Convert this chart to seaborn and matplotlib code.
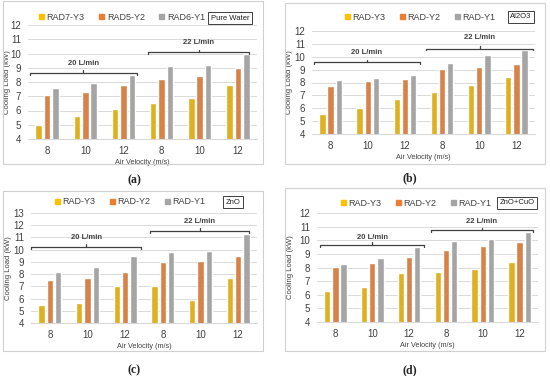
import numpy as np
import pandas as pd
import matplotlib
matplotlib.use("Agg")
import matplotlib.pyplot as plt
import seaborn as sns
from matplotlib.patches import Rectangle

# x axis: three air velocities at 20 L/min then again at 22 L/min
velocity = ["8", "10", "12", "8", "10", "12"]
groups = ["20-8", "20-10", "20-12", "22-8", "22-10", "22-12"]

# (a) pure water
a_series = ["RAD7-Y3", "RAD5-Y2", "RAD6-Y1"]
a_y3 = [5.0, 5.6, 6.1, 6.5, 6.9, 7.8]
a_y2 = [7.1, 7.3, 7.8, 8.2, 8.45, 9.0]
a_y1 = [7.55, 7.9, 8.5, 9.1, 9.2, 10.0]

# (b) Al2O3
b_series = ["RAD-Y3", "RAD-Y2", "RAD-Y1"]
b_y3 = [5.55, 6.0, 6.7, 7.3, 7.8, 8.4]
b_y2 = [7.75, 8.15, 8.25, 9.05, 9.2, 9.45]
b_y1 = [8.2, 8.35, 8.6, 9.5, 10.1, 10.5]

# (c) ZnO
c_y3 = [5.45, 5.65, 7.0, 7.0, 5.85, 7.7]
c_y2 = [7.55, 7.7, 8.2, 9.0, 9.1, 9.5]
c_y1 = [8.2, 8.6, 9.45, 9.8, 9.9, 11.3]

# (d) ZnO+CuO
d_y3 = [6.25, 6.6, 7.6, 7.65, 7.9, 8.4]
d_y2 = [8.05, 8.3, 8.75, 9.3, 9.6, 9.9]
d_y1 = [8.25, 8.7, 9.5, 9.95, 10.1, 10.6]

colors = ["#FFC000", "#ED7D31", "#A5A5A5"]

sns.set_style("white")
plt.rcParams["font.family"] = ["Liberation Sans", "DejaVu Sans"]

W, H = 550, 376
fig = plt.figure(figsize=(5.5, 3.76), dpi=100)


def px(x0, y0, x1, y1):
    return [x0 / W, 1 - y1 / H, (x1 - x0) / W, (y1 - y0) / H]


panels = [
    dict(vals=[a_y3, a_y2, a_y1], names=a_series, tag="Pure Water", label="(a)",
         ax=(28, 25, 257, 139), box=(3, 1, 263, 164), ylim=12, ylab=11,
         leg=(122, 17), tagbox=(230, 18), lab=(134, 180),
         b20=(-0.45, 2.35, 8.65, 9.3), b22=(2.65, 5.3, 10.08, 10.76)),
    dict(vals=[b_y3, b_y2, b_y1], names=b_series, tag="Al2O3", label="(b)",
         ax=(312, 31, 535, 134), box=(285, 3, 545, 164), ylim=12, ylab=293,
         leg=(420, 17), tagbox=(521, 17), lab=(410, 178),
         b20=(-0.45, 2.41, 9.6, 10.33), b22=(2.57, 5.45, 10.64, 11.46)),
    dict(vals=[c_y3, c_y2, c_y1], names=b_series, tag="ZnO", label="(c)",
         ax=(31, 213, 257, 323), box=(3, 191, 263, 351), ylim=13, ylab=12,
         leg=(130, 202), tagbox=(233, 202), lab=(134, 370),
         b20=(-0.5, 2.43, 10.25, 11.0), b22=(2.66, 5.3, 11.56, 12.3)),
    dict(vals=[d_y3, d_y2, d_y1], names=b_series, tag="ZnO+CuO", label="(d)",
         ax=(317, 213, 538, 322), box=(285, 188, 545, 351), ylim=12, ylab=294,
         leg=(416, 203), tagbox=(517, 203), lab=(410, 370),
         b20=(-0.41, 2.41, 9.68, 10.2), b22=(2.59, 5.36, 10.73, 11.4)),
]

for p in panels:
    bx = p["box"]
    fig.patches.append(Rectangle((bx[0] / W, 1 - bx[3] / H), (bx[2] - bx[0]) / W,
                                 (bx[3] - bx[1]) / H, transform=fig.transFigure,
                                 fill=False, edgecolor="#D0D0D0", linewidth=0.8))

    df = pd.DataFrame({
        "group": groups * 3,
        "series": np.repeat(p["names"], 6),
        "load": p["vals"][0] + p["vals"][1] + p["vals"][2],
    })
    ax = fig.add_axes(px(*p["ax"]))
    sns.barplot(data=df, x="group", y="load", hue="series", order=groups,
                hue_order=p["names"], palette=colors, width=0.66, gap=0.22,
                ax=ax, legend=False)
    ax.set_ylim(4, p["ylim"])
    ax.set_xlim(-0.5, 5.5)
    ax.set_yticks(range(4, p["ylim"] + 1))
    ax.yaxis.grid(True, color="#D9D9D9", linewidth=0.7)
    ax.set_axisbelow(True)
    for s in ["top", "right", "left"]:
        ax.spines[s].set_visible(False)
    ax.spines["bottom"].set_color("#D9D9D9")
    ax.set_xticks(range(6))
    ax.set_xticklabels(velocity)
    ax.tick_params(axis="both", labelsize=7, length=0, pad=5, colors="#404040")
    ax.set_ylabel("Cooling Load (kW)", fontsize=5.5, color="#404040")
    x0, x1 = p["ax"][0], p["ax"][2]
    ax.yaxis.set_label_coords((p["ylab"] - x0) / (x1 - x0), 0.5)
    ax.set_xlabel("Air Velocity (m/s)", fontsize=5.2, color="#404040", labelpad=2)

    # flow-rate brackets
    for b0, b1, yb, yt, txt in [(*p["b20"], "20 L/min"), (*p["b22"], "22 L/min")]:
        d = 0.14 * (p["ylim"] - 4) / 8
        ax.plot([b0, b0, b1, b1], [yb - d, yb, yb, yb - d], color="#404040", lw=0.9,
                clip_on=False)
        xm = (b0 + b1) / 2
        ax.plot([xm, xm], [yb, yb + d * 1.2], color="#404040", lw=0.9, clip_on=False)
        ax.text(xm, yt, txt, ha="center", va="center", fontsize=5.5,
                fontweight="bold", color="#404040")

    handles = [Rectangle((0, 0), 1, 1, color=c) for c in colors]
    lx, ly = p["leg"]
    fig.legend(handles, p["names"], loc="center", bbox_to_anchor=(lx / W, 1 - ly / H),
               ncol=3, frameon=False, fontsize=6.5, handlelength=0.55, handleheight=0.55,
               handletextpad=0.3, columnspacing=1.6, labelcolor="#404040")

    tx, ty = p["tagbox"]
    fig.text(tx / W, 1 - ty / H, p["tag"], ha="center", va="center", fontsize=5.5,
             color="#202020",
             bbox=dict(boxstyle="square,pad=0.3", fc="white", ec="#404040", lw=0.7))

    lx, ly = p["lab"]
    fig.text(lx / W, 1 - ly / H, p["label"], ha="center", va="center", fontsize=8.5,
             family="Liberation Serif", fontweight="bold")

fig.savefig("out.png", dpi=100)
